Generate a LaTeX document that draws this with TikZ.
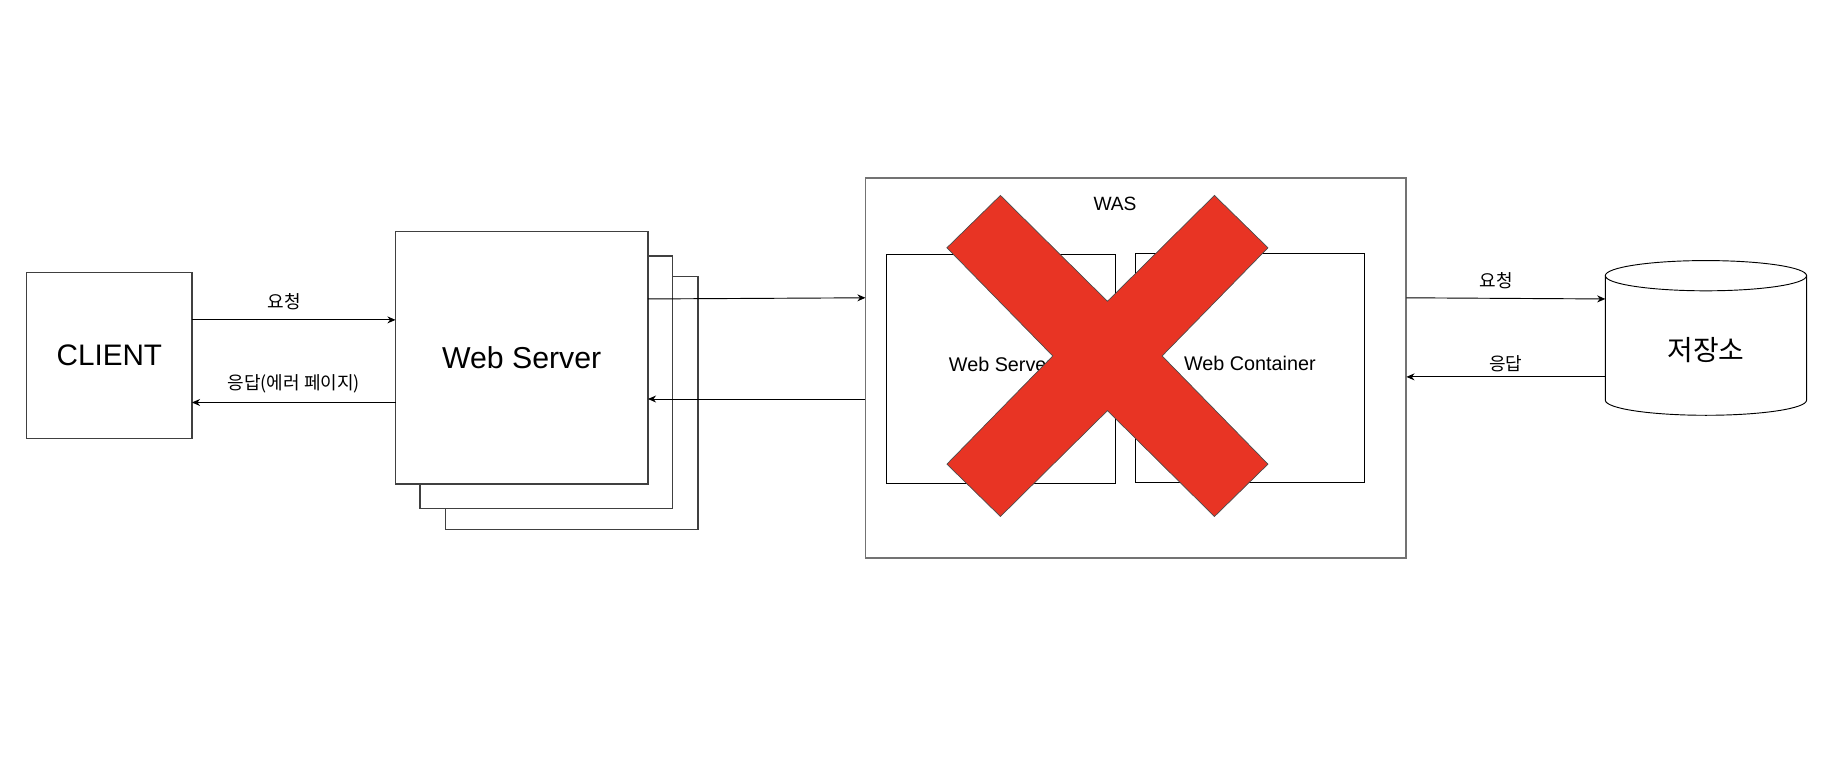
\documentclass[tikz,border=0pt]{standalone}
\usepackage{fontspec}
\setmainfont{Liberation Sans}
\newfontfamily\kr{Noto Sans CJK KR}
\usetikzlibrary{arrows.meta,positioning}
\definecolor{xred}{RGB}{232,52,36}
\tikzset{
  box/.style={draw=black!75, line width=1pt, fill=white, inner sep=0pt, outer sep=0pt},
  inbox/.style={draw=black, line width=.8pt, fill=white, inner sep=0pt, outer sep=0pt,
    minimum width=197pt, minimum height=197pt, text depth=8pt, font=\fontsize{17}{20}\selectfont},
  arr/.style={-{Stealth[length=7pt,width=6pt]}, line width=.8pt},
  msg/.style={midway, above=8pt, inner sep=0pt, font=\kr\fontsize{15.5}{18}\selectfont},
  xcross/.style={fill=xred, draw=black!70, line width=.6pt}
}

\begin{document}
\begin{tikzpicture}[x=1pt, y=-1pt]
    \useasboundingbox (0,0) rectangle (1568,655);
    \node [box, minimum width=142pt, minimum height=143pt, font=\fontsize{25.5}{30}\selectfont] (client) at (94,305.5) {CLIENT};
    \node [box, minimum width=217pt, minimum height=217pt] (ws3) [right=218pt of client, yshift=-41pt] {};
    \node [box, minimum width=217pt, minimum height=217pt] (ws2) [right=196pt of client, yshift=-23pt] {};
    \node [box, minimum width=217pt, minimum height=217pt, font=\fontsize{26}{30}\selectfont] (ws) [right=175pt of client, yshift=-2pt] {Web Server};
    \node [box, draw=black!55, line width=1.6pt, minimum width=465pt, minimum height=327pt] (was) [right=187pt of ws, yshift=-9pt] {};
    \node [inner sep=0pt, font=\fontsize{16.5}{20}\selectfont] (waslbl) [below=16pt of was.north, xshift=-18pt] {WAS};
    \node [inbox] (wsin) [right=18pt of was.west, yshift=-1pt] {Web Server};
    \node [inbox] (wc) [right=17pt of wsin, yshift=1pt] {Web Container};
    \node [minimum width=173pt, minimum height=133pt, inner sep=0pt, outer sep=0pt] (db) [right=171pt of was, yshift=26pt] {};
    \draw [line width=.8pt, fill=white] ([yshift=-13pt]db.north west) -- ([yshift=13pt]db.south west)
      arc [start angle=180, end angle=360, x radius=86.5pt, y radius=13pt] -- ([yshift=-13pt]db.north east);
    \draw [line width=.8pt] ([yshift=-13pt]db.north) ellipse [x radius=86.5pt, y radius=13pt];
    \node [font=\kr\fontsize{24}{28}\selectfont] at ([yshift=-10pt]db.center) {저장소};
    \coordinate (cross) at ([shift={(-24.5pt,10.5pt)}]was.center);
    \filldraw [xcross, shift={(cross)}] (-92,-138) -- (0,-47) -- (92,-138) -- (138,-93) -- (47,0) -- (138,93)
      -- (92,138) -- (0,47) -- (-92,138) -- (-138,93) -- (-47,0) -- (-138,-93) -- cycle;
    \draw [arr] ([yshift=30.5pt]client.east) -- ([yshift=32.5pt]ws.west) node [msg, xshift=-8pt] {요청};
    \draw [arr] ([yshift=-38.5pt]ws.west) -- ([yshift=-40.5pt]client.east) node [msg] {응답(에러 페이지)};
    \draw [arr] ([yshift=50.5pt]ws.east) -- ([yshift=60.5pt]was.west);
    \draw [arr] ([yshift=-26.5pt]was.west) -- ([yshift=-35.5pt]ws.east);
    \draw [arr] ([yshift=60.5pt]was.east) -- ([yshift=33.5pt]db.west) node [msg, xshift=-8pt] {요청};
    \draw [arr] ([yshift=-33.5pt]db.west) -- ([yshift=-7.5pt]was.east) node [msg, above=4pt] {응답};
\end{tikzpicture}
\end{document}
